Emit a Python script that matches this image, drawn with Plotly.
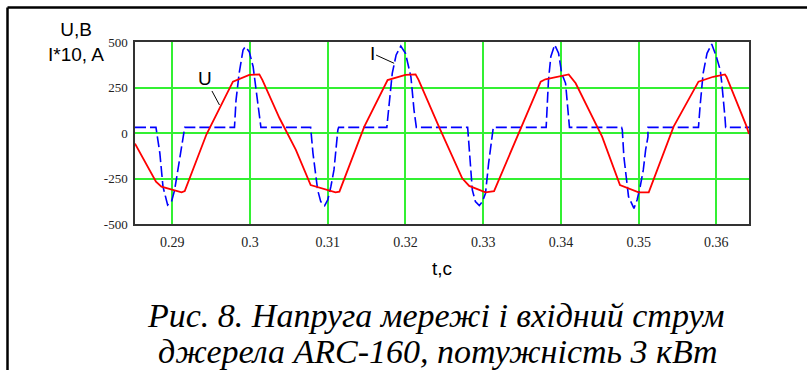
import plotly.graph_objects as go

# ---- data ----
u_t = [0.2852, 0.2879, 0.2886, 0.2912, 0.2916, 0.2944, 0.2978, 0.2999, 0.3012, 0.3016,
       0.3038, 0.3059, 0.3078, 0.3110, 0.3115, 0.3147, 0.3177, 0.3200, 0.3213, 0.3217,
       0.3243, 0.3273, 0.3282, 0.3303, 0.3314, 0.3374, 0.3380, 0.3410, 0.3419, 0.3453,
       0.3476, 0.3500, 0.3513, 0.3545, 0.3577, 0.3596, 0.3611, 0.3613, 0.3639, 0.3642]
u_v = [-58, -268, -295, -326, -319, -7, 282, 319, 322, 291,
       81, -93, -286, -326, -322, 35, 291, 319, 322, 291,
       35, -249, -291, -326, -319, 282, 295, 322, 273, -20,
       -286, -326, -326, 35, 282, 309, 322, 309, 35, -5]

i_t = [0.2852, 0.2879, 0.2884, 0.2888, 0.2894, 0.2899, 0.2903, 0.2907, 0.2912, 0.2915, 0.2916,
       0.2980, 0.2982, 0.2986, 0.2991, 0.2994, 0.2999, 0.3004, 0.3008, 0.3012, 0.3014,
       0.3078, 0.3081, 0.3087, 0.3091, 0.3096, 0.3100, 0.3104, 0.3108, 0.3113, 0.3114,
       0.3176, 0.3179, 0.3183, 0.3188, 0.3194, 0.3200, 0.3207, 0.3211, 0.3214,
       0.3280, 0.3282, 0.3286, 0.3290, 0.3295, 0.3299, 0.3303, 0.3307, 0.3312, 0.3313,
       0.3381, 0.3382, 0.3384, 0.3387, 0.3392, 0.3397, 0.3401, 0.3406, 0.3410, 0.3411,
       0.3478, 0.3479, 0.3481, 0.3485, 0.3487, 0.3494, 0.3498, 0.3502, 0.3506, 0.3509, 0.3512, 0.3512,
       0.3577, 0.3579, 0.3583, 0.3588, 0.3594, 0.3600, 0.3605, 0.3607, 0.3609, 0.3611, 0.3612, 0.3642]
i_v = [31, 31, -112, -295, -396, -377, -313, -203, -75, 17, 31,
       31, 181, 328, 456, 474, 447, 364, 236, 90, 31,
       31, -112, -313, -377, -399, -368, -295, -203, 17, 31,
       31, 145, 328, 429, 478, 438, 309, 126, 31,
       31, -75, -313, -377, -399, -377, -331, -166, 17, 31,
       31, 145, 291, 419, 484, 438, 328, 273, 90, 31,
       31, 17, -130, -258, -350, -414, -368, -295, -203, -93, -20, 31,
       31, 145, 328, 438, 489, 419, 346, 273, 199, 90, 31, 31]

x_ticks = [0.29, 0.30, 0.31, 0.32, 0.33, 0.34, 0.35, 0.36]
x_tick_text = ["0.29", "0.3", "0.31", "0.32", "0.33", "0.34", "0.35", "0.36"]
y_ticks = [-500, -250, 0, 250, 500]
y_tick_text = ["-500", "-250", "0", "250", "500"]

caption_1 = "Рис. 8. Напруга мережі і вхідний струм"
caption_2 = "джерела ARC-160, потужність 3 кВт"

fig = go.Figure()
fig.add_trace(go.Scatter(x=i_t, y=i_v, mode="lines",
                         line=dict(color="#0000ff", width=1.6, dash="11px,4px"),
                         showlegend=False))
fig.add_trace(go.Scatter(x=u_t, y=u_v, mode="lines",
                         line=dict(color="#ff0000", width=1.8),
                         showlegend=False))

W, H = 807, 370
L, R, T, B = 135, 749, 42, 224
def px(x):
    return (x - L) / (R - L)
def py(y):
    return (B - y) / (B - T)

serif = "Liberation Serif, Times New Roman, serif"
sans = "Liberation Sans, Arial, sans-serif"

fig.update_layout(
    width=W, height=H,
    margin=dict(l=L, r=W - R, t=T, b=H - B, pad=0),
    paper_bgcolor="white", plot_bgcolor="white",
    xaxis=dict(range=[0.2852, 0.3642], tickvals=x_ticks, ticktext=x_tick_text,
               showgrid=True, gridcolor="#33f033", gridwidth=1.5,
               showline=True, linecolor="#333333", linewidth=1.5, mirror=True,
               zeroline=False, ticks="", ticklabelstandoff=4,
               tickfont=dict(family=serif, size=14, color="#222")),
    yaxis=dict(range=[-500, 500], tickvals=y_ticks, ticktext=y_tick_text,
               showgrid=True, gridcolor="#33f033", gridwidth=1.5,
               showline=True, linecolor="#333333", linewidth=1.5, mirror=True,
               zeroline=False, ticks="", ticklabelstandoff=3,
               tickfont=dict(family=serif, size=13, color="#222")),
    shapes=[
        dict(type="line", xref="paper", yref="paper", x0=px(7.5), x1=px(807), y0=py(7.5), y1=py(7.5),
             line=dict(color="black", width=2.5)),
        dict(type="line", xref="paper", yref="paper", x0=px(7.5), x1=px(7.5), y0=py(7.5), y1=py(372),
             line=dict(color="black", width=2.5)),
    ],
    annotations=[
        dict(text="U,B<br>I*10, A", xref="paper", yref="paper", x=px(76), y=py(42), showarrow=False,
             font=dict(family=sans, size=19, color="black"), xanchor="center", yanchor="middle",
             align="center"),
        dict(text="t,c", xref="paper", yref="paper", x=px(442), y=py(268), showarrow=False,
             font=dict(family=sans, size=19, color="black"), xanchor="center", yanchor="middle"),
        dict(text="U", x=0.29607, y=154, xref="x", yref="y", showarrow=True, arrowhead=0,
             arrowwidth=1, arrowcolor="black", ax=-14, ay=-26, standoff=0,
             font=dict(family=sans, size=19, color="black")),
        dict(text="I", x=0.31854, y=383, xref="x", yref="y", showarrow=True, arrowhead=0,
             arrowwidth=1, arrowcolor="black", ax=-22, ay=-10, standoff=0,
             font=dict(family=sans, size=19, color="black")),
        dict(text="<i>" + caption_1 + "</i>", xref="paper", yref="paper", x=px(435), y=py(315),
             showarrow=False, xanchor="center", yanchor="middle",
             font=dict(family=serif, size=34, color="black")),
        dict(text="<i>" + caption_2 + "</i>", xref="paper", yref="paper", x=px(438), y=py(351),
             showarrow=False, xanchor="center", yanchor="middle",
             font=dict(family=serif, size=34, color="black")),
    ],
)

fig.write_html("out.html")
